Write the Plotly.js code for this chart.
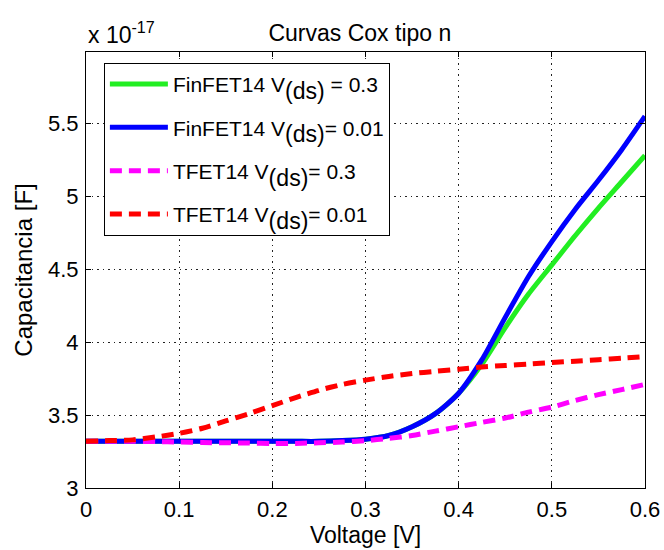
<!DOCTYPE html>
<html>
<head>
<meta charset="utf-8">
<script src="https://cdn.plot.ly/plotly-3.0.1.min.js"></script>
<style>html,body{margin:0;padding:0;background:#fff;}#chart{width:664px;height:550px;}</style>
</head>
<body>
<div id="chart"></div>
<script>
// Gate voltage [V]
const voltage = [0, 0.025, 0.05, 0.075, 0.1, 0.125, 0.15, 0.175, 0.2, 0.225, 0.25, 0.275, 0.3,
                 0.325, 0.35, 0.375, 0.4, 0.425, 0.45, 0.475, 0.5, 0.525, 0.55, 0.575, 0.6];
// Capacitance values in units of 1e-17 F
const finfetVds03 = [3.32, 3.32, 3.32, 3.32, 3.32, 3.32, 3.32, 3.32, 3.32, 3.32, 3.32, 3.325, 3.335,
                     3.36, 3.42, 3.51, 3.65, 3.85, 4.10, 4.33, 4.53, 4.73, 4.92, 5.10, 5.28];
const finfetVds001 = [3.32, 3.32, 3.32, 3.32, 3.32, 3.32, 3.32, 3.32, 3.32, 3.32, 3.32, 3.325, 3.335,
                      3.36, 3.42, 3.51, 3.65, 3.88, 4.17, 4.45, 4.69, 4.91, 5.11, 5.32, 5.55];
const tfetVds03 = [3.32, 3.32, 3.32, 3.318, 3.315, 3.312, 3.31, 3.308, 3.305, 3.306, 3.31, 3.315, 3.325,
                   3.34, 3.36, 3.39, 3.42, 3.45, 3.48, 3.52, 3.555, 3.60, 3.64, 3.675, 3.71];
const tfetVds001 = [3.32, 3.325, 3.33, 3.35, 3.375, 3.41, 3.46, 3.51, 3.565, 3.62, 3.67, 3.71, 3.74,
                    3.765, 3.785, 3.80, 3.815, 3.83, 3.84, 3.85, 3.86, 3.87, 3.88, 3.89, 3.90];
const SUB = '<span style="font-size:33px"><sub>(ds)</sub></span>';
const seriesNames = ['FinFET14 V' + SUB + ' = 0.3', 'FinFET14 V' + SUB + '= 0.01',
                     'TFET14 V' + SUB + '= 0.3', 'TFET14 V' + SUB + '= 0.01'];
const yTicks = [3, 3.5, 4, 4.5, 5, 5.5];
const yTickText = ['3', '3.5', '4', '4.5', '5', '5.5'];
const xTicks = [0, 0.1, 0.2, 0.3, 0.4, 0.5, 0.6];
const xTickText = ['0', '0.1', '0.2', '0.3', '0.4', '0.5', '0.6'];

const F = 'Arial, "Liberation Sans", sans-serif';
const traces = [
  {x: voltage, y: finfetVds03, name: seriesNames[0], legendgroup: 'g1', mode: 'lines',
   line: {color: '#22ee22', width: 5, shape: 'spline', smoothing: 0.7}},
  {x: voltage, y: finfetVds001, name: seriesNames[1], legendgroup: 'g2', mode: 'lines',
   line: {color: '#0000ff', width: 5, shape: 'spline', smoothing: 0.7}},
  {x: voltage, y: tfetVds03, name: seriesNames[2], legendgroup: 'g3', mode: 'lines',
   line: {color: '#ff00ff', width: 5, dash: '12px,7px', shape: 'spline', smoothing: 0.7}},
  {x: voltage, y: tfetVds001, name: seriesNames[3], legendgroup: 'g4', mode: 'lines',
   line: {color: '#ff0000', width: 5, dash: '12px,7px', shape: 'spline', smoothing: 0.7}}
];
const axisCommon = {
  showline: true, linecolor: '#000', linewidth: 1, mirror: 'ticks',
  ticks: 'inside', ticklen: 5, tickcolor: '#000',
  showgrid: true, gridcolor: '#222', griddash: '1.5px,4px', gridwidth: 1,
  zeroline: false, tickfont: {family: F, size: 22, color: '#000'}
};
const layout = {
  width: 664, height: 550,
  margin: {l: 86, r: 19, t: 52, b: 62},
  paper_bgcolor: '#fff', plot_bgcolor: '#fff',
  font: {family: F, color: '#000'},
  title: {text: 'Curvas Cox tipo n', font: {family: F, size: 23, color: '#000'},
          x: 0.542, xanchor: 'center', y: 0.94, yanchor: 'middle'},
  xaxis: Object.assign({}, axisCommon, {
    range: [0, 0.6], tickvals: xTicks, ticktext: xTickText, ticklabelstandoff: 2,
    title: {text: 'Voltage [V]', font: {family: F, size: 23, color: '#000'}, standoff: 0}
  }),
  yaxis: Object.assign({}, axisCommon, {
    range: [3, 5.99], tickvals: yTicks, ticktext: yTickText, ticklabelstandoff: 2,
    title: {text: 'Capacitancia [F]', font: {family: F, size: 24, color: '#000'}, standoff: 8}
  }),
  showlegend: true,
  legend: {x: 0.032, y: 0.975, xanchor: 'left', yanchor: 'top', traceorder: 'grouped',
           bgcolor: '#fff', bordercolor: '#000', borderwidth: 1, itemwidth: 58,
           font: {family: F, size: 21, color: '#000'}, tracegroupgap: 13},
  annotations: [{text: 'x 10<sup>-17</sup>', xref: 'paper', yref: 'paper', x: 0, y: 1.005,
                 xanchor: 'left', yanchor: 'bottom', showarrow: false,
                 font: {family: F, size: 23, color: '#000'}}]
};
Plotly.newPlot('chart', traces, layout, {displayModeBar: false, staticPlot: true});
</script>
</body>
</html>
